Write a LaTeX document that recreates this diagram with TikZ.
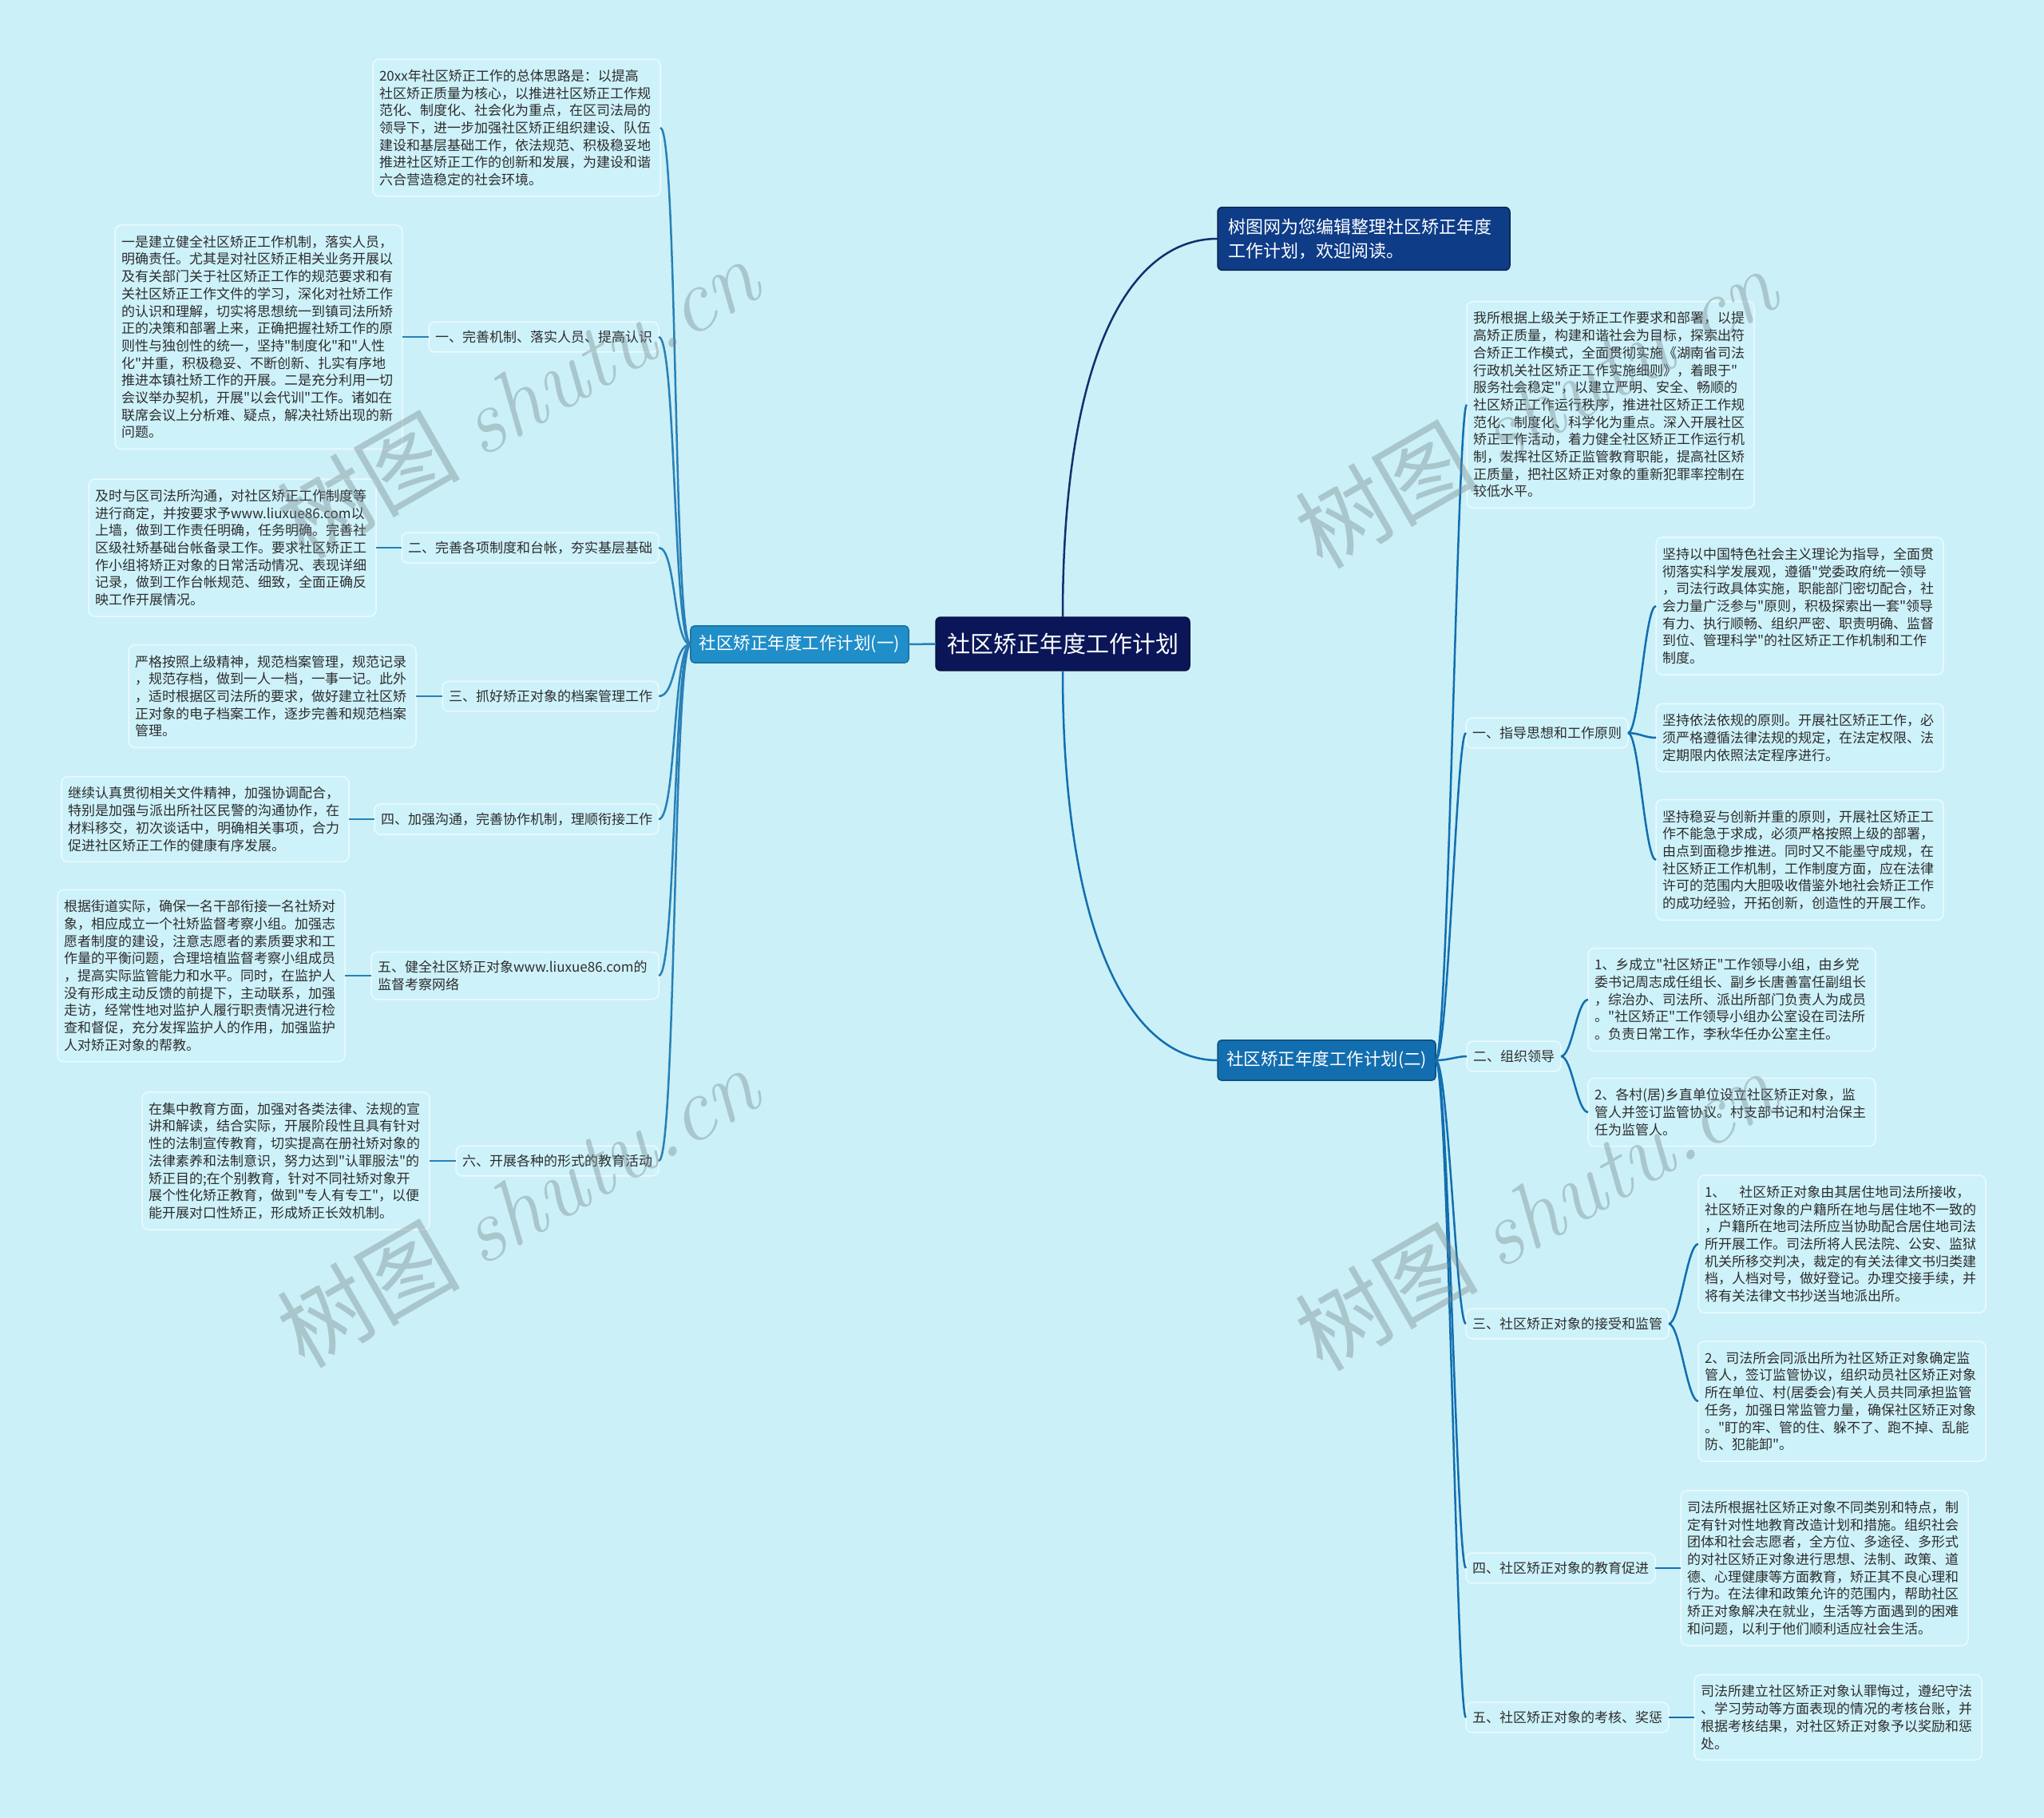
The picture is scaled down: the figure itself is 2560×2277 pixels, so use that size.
\documentclass[tikz,border=0pt]{standalone}
\usepackage{fontspec}
\newfontfamily\cjk{Noto Sans CJK SC}
\usetikzlibrary{positioning}
\definecolor{bgc}{RGB}{203,240,248}
\definecolor{leafc}{RGB}{206,242,250}
\definecolor{bdc}{RGB}{236,250,253}
\definecolor{txtc}{RGB}{45,45,45}
\definecolor{lnc}{RGB}{40,128,182}
\definecolor{rootc}{RGB}{10,22,88}
\definecolor{titlec}{RGB}{14,60,135}
\definecolor{brac}{RGB}{32,142,200}
\definecolor{brbc}{RGB}{18,110,175}
\definecolor{navyln}{RGB}{16,48,110}
\definecolor{wmc}{RGB}{120,135,140}

\begin{document}
\begin{tikzpicture}[x=1pt,y=-1pt,
  box/.style={draw=bdc,line width=1.5pt,fill=leafc,rounded corners=8pt,text=txtc,align=left,inner xsep=8pt,outer sep=0pt,font=\cjk\fontsize{17}{21.7}\selectfont},
  leaf/.style={box,text width=344pt,inner ysep=13pt},
  topic/.style={box,inner ysep=11pt},
  branch/.style={line width=1.5pt,rounded corners=5pt,text=white,inner xsep=11pt,inner ysep=12pt,outer sep=0pt,font=\cjk\fontsize{21.5}{26}\selectfont},
  conn/.style={draw=lnc,line width=2.5pt},
  wmark/.style={rotate=30,text=wmc,opacity=.4,font=\cjk\fontsize{115}{120}\selectfont}]
\path[use as bounding box] (0,0) rectangle (2560,2277);
\fill[bgc] (0,0) rectangle (2560,2277);

% centre and main branches
\node[fill=rootc,draw=rootc!70!black,line width=1.5pt,rounded corners=6pt,text=white,inner xsep=14pt,inner ysep=20pt,outer sep=0pt,font=\cjk\fontsize{29}{34}\selectfont] (root) at (1331,806.5) {社区矫正年度工作计划};
\node[branch,fill=brac,draw=brac!80!black,anchor=east] (plan1) at (1138,807) {社区矫正年度工作计划(一)};
\node[branch,fill=brbc,draw=brbc!70!black,anchor=west,inner ysep=14pt] (plan2) at (1525,1328) {社区矫正年度工作计划(二)};
\node[fill=titlec,draw=titlec!60!black,line width=1.5pt,rounded corners=6pt,text=white,align=left,text width=340pt,inner xsep=13pt,inner ysep=14pt,outer sep=0pt,anchor=west,font=\cjk\fontsize{22}{30}\selectfont] (intro) at (1525,299) {树图网为您编辑整理社区矫正年度\\工作计划，欢迎阅读。};

% left side
\node[leaf,anchor=east] (aim) at (827,160) {20xx年社区矫正工作的总体思路是：以提高\\社区矫正质量为核心，以推进社区矫正工作规\\范化、制度化、社会化为重点，在区司法局的\\领导下，进一步加强社区矫正组织建设、队伍\\建设和基层基础工作，依法规范、积极稳妥地\\推进社区矫正工作的创新和发展，为建设和谐\\六合营造稳定的社会环境。};

\node[topic,anchor=east] (left1) at (825,422) {一、完善机制、落实人员、提高认识};
\node[leaf,left=33pt of left1] (left1t) {一是建立健全社区矫正工作机制，落实人员，\\明确责任。尤其是对社区矫正相关业务开展以\\及有关部门关于社区矫正工作的规范要求和有\\关社区矫正工作文件的学习，深化对社矫工作\\的认识和理解，切实将思想统一到镇司法所矫\\正的决策和部署上来，正确把握社矫工作的原\\则性与独创性的统一，坚持"制度化"和"人性\\化"并重，积极稳妥、不断创新、扎实有序地\\推进本镇社矫工作的开展。二是充分利用一切\\会议举办契机，开展"以会代训"工作。诸如在\\联席会议上分析难、疑点，解决社矫出现的新\\问题。};

\node[topic,anchor=east] (left2) at (825,686) {二、完善各项制度和台帐，夯实基层基础};
\node[leaf,left=32pt of left2] (left2t) {及时与区司法所沟通，对社区矫正工作制度等\\进行商定，并按要求予www.liuxue86.com以\\上墙，做到工作责任明确，任务明确。完善社\\区级社矫基础台帐备录工作。要求社区矫正工\\作小组将矫正对象的日常活动情况、表现详细\\记录，做到工作台帐规范、细致，全面正确反\\映工作开展情况。};

\node[topic,anchor=east] (left3) at (825,872) {三、抓好矫正对象的档案管理工作};
\node[leaf,left=33pt of left3] (left3t) {严格按照上级精神，规范档案管理，规范记录\\，规范存档，做到一人一档，一事一记。此外\\，适时根据区司法所的要求，做好建立社区矫\\正对象的电子档案工作，逐步完善和规范档案\\管理。};

\node[topic,anchor=east] (left4) at (825,1026) {四、加强沟通，完善协作机制，理顺衔接工作};
\node[leaf,left=32pt of left4] (left4t) {继续认真贯彻相关文件精神，加强协调配合，\\特别是加强与派出所社区民警的沟通协作，在\\材料移交，初次谈话中，明确相关事项，合力\\促进社区矫正工作的健康有序发展。};

\node[topic,anchor=east,text width=344pt] (left5) at (825,1222) {五、健全社区矫正对象www.liuxue86.com的\\监督考察网络};
\node[leaf,left=33pt of left5] (left5t) {根据街道实际，确保一名干部衔接一名社矫对\\象，相应成立一个社矫监督考察小组。加强志\\愿者制度的建设，注意志愿者的素质要求和工\\作量的平衡问题，合理培植监督考察小组成员\\，提高实际监管能力和水平。同时，在监护人\\没有形成主动反馈的前提下，主动联系，加强\\走访，经常性地对监护人履行职责情况进行检\\查和督促，充分发挥监护人的作用，加强监护\\人对矫正对象的帮教。};

\node[topic,anchor=east] (left6) at (825,1454) {六、开展各种的形式的教育活动};
\node[leaf,left=33pt of left6] (left6t) {在集中教育方面，加强对各类法律、法规的宣\\讲和解读，结合实际，开展阶段性且具有针对\\性的法制宣传教育，切实提高在册社矫对象的\\法律素养和法制意识，努力达到"认罪服法"的\\矫正目的;在个别教育，针对不同社矫对象开\\展个性化矫正教育，做到"专人有专工"，以便\\能开展对口性矫正，形成矫正长效机制。};

% right side
\node[leaf,anchor=west] (basis) at (1837,507) {我所根据上级关于矫正工作要求和部署，以提\\高矫正质量，构建和谐社会为目标，探索出符\\合矫正工作模式，全面贯彻实施《湖南省司法\\行政机关社区矫正工作实施细则》，着眼于"\\服务社会稳定"，以建立严明、安全、畅顺的\\社区矫正工作运行秩序，推进社区矫正工作规\\范化、制度化、科学化为重点。深入开展社区\\矫正工作活动，着力健全社区矫正工作运行机\\制，发挥社区矫正监管教育职能，提高社区矫\\正质量，把社区矫正对象的重新犯罪率控制在\\较低水平。};

\node[topic,anchor=west] (right1) at (1836,918) {一、指导思想和工作原则};
\node[leaf,anchor=west] (right1a) at (2074,759) {坚持以中国特色社会主义理论为指导，全面贯\\彻落实科学发展观，遵循"党委政府统一领导\\，司法行政具体实施，职能部门密切配合，社\\会力量广泛参与"原则，积极探索出一套"领导\\有力、执行顺畅、组织严密、职责明确、监督\\到位、管理科学"的社区矫正工作机制和工作\\制度。};
\node[leaf,anchor=west] (right1b) at (2074,924) {坚持依法依规的原则。开展社区矫正工作，必\\须严格遵循法律法规的规定，在法定权限、法\\定期限内依照法定程序进行。};
\node[leaf,anchor=west] (right1c) at (2074,1077) {坚持稳妥与创新并重的原则，开展社区矫正工\\作不能急于求成，必须严格按照上级的部署，\\由点到面稳步推进。同时又不能墨守成规，在\\社区矫正工作机制，工作制度方面，应在法律\\许可的范围内大胆吸收借鉴外地社会矫正工作\\的成功经验，开拓创新，创造性的开展工作。};

\node[topic,anchor=west] (right2) at (1837,1323) {二、组织领导};
\node[leaf,anchor=west] (right2a) at (1989,1252) {1、乡成立"社区矫正"工作领导小组，由乡党\\委书记周志成任组长、副乡长唐善富任副组长\\，综治办、司法所、派出所部门负责人为成员\\。"社区矫正"工作领导小组办公室设在司法所\\。负责日常工作，李秋华任办公室主任。};
\node[leaf,anchor=west] (right2b) at (1989,1393) {2、各村(居)乡直单位设立社区矫正对象，监\\管人并签订监管协议。村支部书记和村治保主\\任为监管人。};

\node[topic,anchor=west] (right3) at (1836,1658) {三、社区矫正对象的接受和监管};
\node[leaf,anchor=west] (right3a) at (2127,1558) {1、　社区矫正对象由其居住地司法所接收，\\社区矫正对象的户籍所在地与居住地不一致的\\，户籍所在地司法所应当协助配合居住地司法\\所开展工作。司法所将人民法院、公安、监狱\\机关所移交判决，裁定的有关法律文书归类建\\档，人档对号，做好登记。办理交接手续，并\\将有关法律文书抄送当地派出所。};
\node[leaf,anchor=west] (right3b) at (2127,1755) {2、司法所会同派出所为社区矫正对象确定监\\管人，签订监管协议，组织动员社区矫正对象\\所在单位、村(居委会)有关人员共同承担监管\\任务，加强日常监管力量，确保社区矫正对象\\。"盯的牢、管的住、躲不了、跑不掉、乱能\\防、犯能卸"。};

\node[topic,anchor=west] (right4) at (1836,1964) {四、社区矫正对象的教育促进};
\node[leaf,right=32pt of right4] (right4t) {司法所根据社区矫正对象不同类别和特点，制\\定有针对性地教育改造计划和措施。组织社会\\团体和社会志愿者，全方位、多途径、多形式\\的对社区矫正对象进行思想、法制、政策、道\\德、心理健康等方面教育，矫正其不良心理和\\行为。在法律和政策允许的范围内，帮助社区\\矫正对象解决在就业，生活等方面遇到的困难\\和问题，以利于他们顺利适应社会生活。};

\node[topic,anchor=west] (right5) at (1836,2151) {五、社区矫正对象的考核、奖惩};
\node[leaf,right=32pt of right5] (right5t) {司法所建立社区矫正对象认罪悔过，遵纪守法\\、学习劳动等方面表现的情况的考核台账，并\\根据考核结果，对社区矫正对象予以奖励和惩\\处。};

% connectors
\draw[draw=navyln,line width=2.5pt] (root.north) .. controls +(0,-330) and +(-110,0) .. (intro.west);
\draw[draw=brbc,line width=2.5pt] (root.south) .. controls +(0,330) and +(-110,0) .. (plan2.west);
\draw[conn] (root.west) -- (plan1.east);
\foreach \n in {aim,left1,left2,left3,left4,left5,left6}
  \draw[conn] (plan1.west) .. controls +(-22,0) and +(22,0) .. (\n.east);
\foreach \n in {1,...,6}
  \draw[conn] (left\n.west) -- (left\n t.east);
\foreach \n in {basis,right1,right2,right3,right4,right5}
  \draw[conn,draw=brbc] (plan2.east) .. controls +(16,0) and +(-12,0) .. (\n.west);
\foreach \n in {right1a,right1b,right1c}
  \draw[conn,draw=brbc] (right1.east) .. controls +(14,0) and +(-14,0) .. (\n.west);
\foreach \n in {right2a,right2b}
  \draw[conn,draw=brbc] (right2.east) .. controls +(14,0) and +(-14,0) .. (\n.west);
\foreach \n in {right3a,right3b}
  \draw[conn,draw=brbc] (right3.east) .. controls +(14,0) and +(-14,0) .. (\n.west);
\draw[conn,draw=brbc] (right4.east) -- (right4t.west);
\draw[conn,draw=brbc] (right5.east) -- (right5t.west);

% watermarks
\node[wmark] (wm1) at (648,498) {树图 {\rmfamily\itshape shutu.cn}};
\node[wmark] (wm2) at (648,1511) {树图 {\rmfamily\itshape shutu.cn}};
\node[wmark] (wm3) at (1923,510) {树图 {\rmfamily\itshape shutu.cn}};
\node[wmark] (wm4) at (1923,1515) {树图 {\rmfamily\itshape shutu.cn}};
\end{tikzpicture}
\end{document}
